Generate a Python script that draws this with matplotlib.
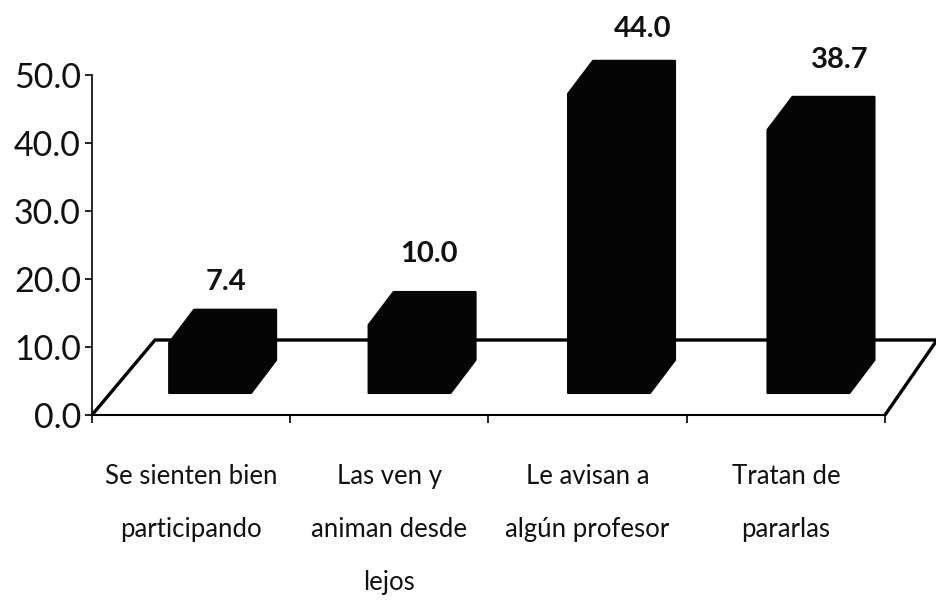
import matplotlib
matplotlib.use("Agg")
import matplotlib.pyplot as plt
from matplotlib.patches import Polygon

categories = ["Se sienten bien\nparticipando", "Las ven y\naniman desde\nlejos",
              "Le avisan a\nalgún profesor", "Tratan de\npararlas"]
values = [7.4, 10.0, 44.0, 38.7]
yticks = [0, 10, 20, 30, 40, 50]
# label nudges, pixels from the bar's front left corner / above the bar
label_dx = [57, 60, 75, 72]
label_dy = [28, 38, 32, 37]

plt.rcParams['font.family'] = ['Lato', 'DejaVu Sans']

W, H = 937, 602
fig = plt.figure(figsize=(W/100, H/100), dpi=100)
# axes box in pixels: x 92-885, y 75-415
ax = fig.add_axes([92/W, 1-415/H, (885-92)/W, (415-75)/H])
ax.set_xlim(-0.5, 3.5)
ax.set_ylim(0, 50)

x_px = 4/(885-92)  # one pixel in x units
y_px = 50/(415-75)  # one pixel in y units

# floor of the 3d chart
floor = [(-0.5, 0), (-0.5+63*x_px, 75*y_px), (-0.5+845*x_px, 75*y_px), (3.5, 0)]
ax.add_patch(Polygon(floor, closed=False, fill=False, ec="black", lw=2.4, clip_on=False, zorder=1))

base = 22*y_px
bar_w = 82*x_px
dx = 25*x_px
dy = 33*y_px
for i, v in enumerate(values):
    l = i-bar_w/2+19*x_px+i*1.2*x_px
    r = l+bar_w
    top = base+v
    shape = [(l, base), (r, base), (r+dx, base+dy), (r+dx, top+dy), (l+dx, top+dy), (l, top)]
    ax.add_patch(Polygon(shape, closed=True, fc="#050505", ec="#050505", lw=1.5, joinstyle="round", clip_on=False, zorder=3))
    ax.text(l+label_dx[i]*x_px, top+dy+label_dy[i]*y_px, f"{v:.1f}", ha="center", va="center",
            fontsize=21, fontweight="bold", color="#111111", zorder=4)

ax.set_yticks(yticks)
ax.set_yticklabels([f"{t:.1f}" for t in yticks], fontsize=24.5, color="#111111")
ax.set_xticks([-0.5, 0.5, 1.5, 2.5, 3.5])
ax.set_xticklabels([])
ax.tick_params(axis="y", length=5, width=1.2, direction="out", pad=3)
ax.tick_params(axis="x", length=6, width=1.2, direction="out")
for i, c in enumerate(categories):
    ax.annotate(c, (i, 0), xytext=(0, -35), textcoords="offset points", ha="center", va="top",
                fontsize=18.5, color="#111111", linespacing=2.42, annotation_clip=False)
ax.spines["top"].set_visible(False)
ax.spines["right"].set_visible(False)
ax.spines["left"].set_linewidth(1.2)
ax.spines["bottom"].set_linewidth(1.5)
ax.patch.set_alpha(0)

fig.savefig("out.png", dpi=100)
